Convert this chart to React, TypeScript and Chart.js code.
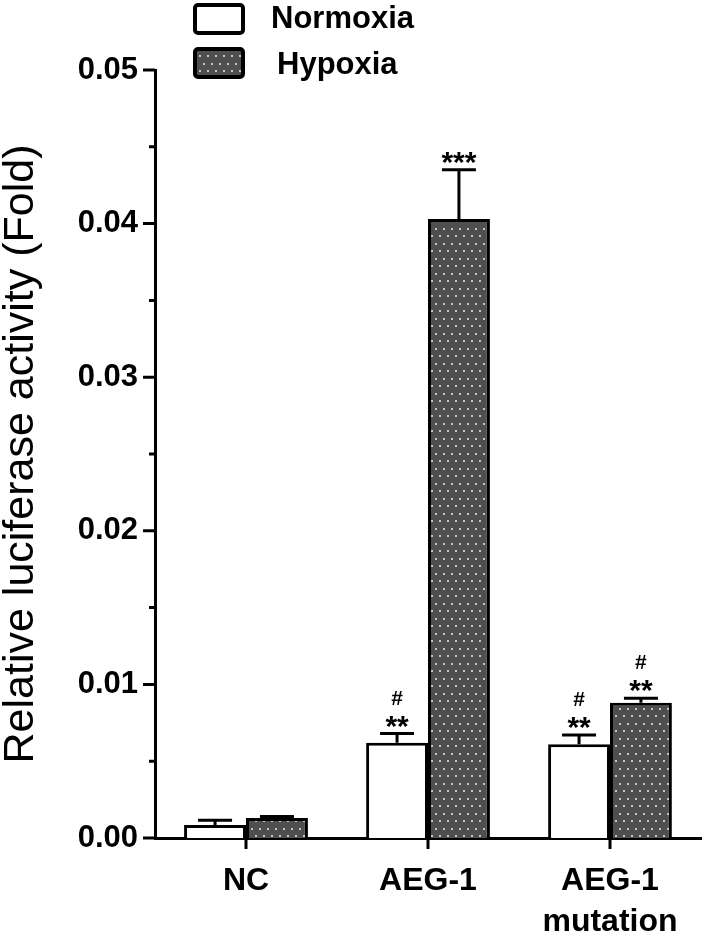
import React, { useEffect, useRef } from "react";
import { Chart, registerables } from "chart.js";

Chart.register(...registerables);

const categories: (string | string[])[] = ["NC", "AEG-1", ["AEG-1", "mutation"]];
const seriesNames = ["Normoxia", "Hypoxia"];
const normoxiaValues = [0.00085, 0.0062, 0.0061];
const normoxiaErrors = [0.0003, 0.0006, 0.0006];
const hypoxiaValues = [0.0013, 0.0403, 0.0088];
const hypoxiaErrors = [0.0001, 0.0032, 0.0003];
const normoxiaStars = ["", "**", "**"];
const normoxiaHash = ["", "#", "#"];
const hypoxiaStars = ["", "***", "**"];
const hypoxiaHash = ["", "", "#"];
const yMin = 0;
const yMax = 0.05;
const yMinorStep = 0.005;
const yMajorStep = 0.01;
const yTitle = "Relative luciferase activity (Fold)";

const FONT = "'Liberation Sans', Arial, Helvetica, sans-serif";

function makeDotPattern(): CanvasPattern | string {
  const c = document.createElement("canvas");
  c.width = 16;
  c.height = 15;
  const g = c.getContext("2d");
  if (!g) return "#555";
  g.fillStyle = "#4f4f4f";
  g.fillRect(0, 0, 16, 15);
  g.fillStyle = "#c4c4c4";
  const dots = [
    [3, 3],
    [11, 3],
    [7, 10],
    [15, 10],
  ];
  dots.forEach(([x, y]) => g.fillRect(x, y, 2, 2));
  g.fillRect(-1, 10, 2, 2);
  const p = g.createPattern(c, "repeat");
  return p || "#555";
}

export default function App() {
  const ref = useRef<HTMLCanvasElement | null>(null);

  useEffect(() => {
    const canvas = ref.current;
    if (!canvas) return;
    const pattern = makeDotPattern();
    const errors = [normoxiaErrors, hypoxiaErrors];
    const stars = [normoxiaStars, hypoxiaStars];
    const hashes = [normoxiaHash, hypoxiaHash];

    const overlay = {
      id: "overlay",
      afterDatasetsDraw(chart: any) {
        const ctx = chart.ctx as CanvasRenderingContext2D;
        const y = chart.scales.y;
        ctx.save();
        ctx.strokeStyle = "#000";
        ctx.fillStyle = "#000";
        ctx.lineWidth = 3;
        chart.data.datasets.forEach((ds: any, di: number) => {
          const meta = chart.getDatasetMeta(di);
          meta.data.forEach((bar: any, i: number) => {
            const v = ds.data[i];
            const e = errors[di][i];
            const x = bar.x;
            const yTop = y.getPixelForValue(v);
            const yCap = y.getPixelForValue(v + e);
            ctx.beginPath();
            ctx.moveTo(x, yTop);
            ctx.lineTo(x, yCap);
            ctx.moveTo(x - 17, yCap);
            ctx.lineTo(x + 17, yCap);
            ctx.stroke();
            ctx.textAlign = "center";
            ctx.textBaseline = "alphabetic";
            if (stars[di][i]) {
              ctx.font = `bold 30px ${FONT}`;
              ctx.fillText(stars[di][i], x, yCap - 15 + 17);
            }
            if (hashes[di][i]) {
              ctx.font = `bold 21px ${FONT}`;
              ctx.fillText(hashes[di][i], x, yCap - 36 + 7);
            }
          });
        });
        ctx.restore();
      },
      afterDraw(chart: any) {
        const ctx = chart.ctx as CanvasRenderingContext2D;
        const { left, bottom } = chart.chartArea;
        const y = chart.scales.y;
        const x = chart.scales.x;
        ctx.save();
        ctx.strokeStyle = "#000";
        ctx.lineWidth = 3;
        ctx.beginPath();
        const n = Math.round((yMax - yMin) / yMinorStep);
        for (let k = 0; k <= n; k++) {
          const v = yMin + k * yMinorStep;
          const py = y.getPixelForValue(v);
          const major = Math.abs(v / yMajorStep - Math.round(v / yMajorStep)) < 1e-6;
          const len = major ? 12 : 6;
          ctx.moveTo(left - len, py);
          ctx.lineTo(left, py);
        }
        categories.forEach((_, i) => {
          const px = x.getPixelForValue(i);
          ctx.moveTo(px, bottom);
          ctx.lineTo(px, bottom + 11);
        });
        ctx.stroke();

        // legend
        const items = [
          { label: seriesNames[0], fill: "#ffffff", box: [195, 5, 48, 28], tx: 271, ty: 28 },
          { label: seriesNames[1], fill: pattern, box: [195, 49, 48, 28], tx: 277, ty: 74 },
        ];
        items.forEach((it) => {
          const [bx, by, bw, bh] = it.box;
          ctx.beginPath();
          ctx.roundRect(bx, by, bw, bh, 3);
          ctx.fillStyle = it.fill as any;
          ctx.fill();
          ctx.lineWidth = 4;
          ctx.strokeStyle = "#000";
          ctx.stroke();
          ctx.fillStyle = "#000";
          ctx.font = `bold 31px ${FONT}`;
          ctx.textAlign = "left";
          ctx.textBaseline = "alphabetic";
          ctx.fillText(it.label, it.tx, it.ty);
        });
        ctx.restore();
      },
    };

    const chart = new Chart(canvas, {
      type: "bar",
      data: {
        labels: categories as any,
        datasets: [
          {
            label: seriesNames[0],
            data: normoxiaValues,
            backgroundColor: "#ffffff",
            borderColor: "#000000",
            borderWidth: 3,
            categoryPercentage: 0.68,
            barPercentage: 1.0,
          },
          {
            label: seriesNames[1],
            data: hypoxiaValues,
            backgroundColor: pattern as any,
            borderColor: "#000000",
            borderWidth: 3,
            categoryPercentage: 0.68,
            barPercentage: 1.0,
          },
        ],
      },
      options: {
        responsive: false,
        animation: false,
        maintainAspectRatio: false,
        layout: { padding: { top: 70, right: 8, left: 0, bottom: 0 } },
        plugins: {
          legend: { display: false },
          tooltip: { enabled: false },
          title: { display: false },
        },
        scales: {
          x: {
            type: "category",
            offset: true,
            grid: { display: false, drawTicks: false },
            border: { display: true, color: "#000", width: 3 },
            ticks: {
              color: "#000",
              padding: 22,
              maxRotation: 0,
              autoSkip: false,
              font: { family: FONT, size: 32, weight: "bold", lineHeight: 1.3 },
            },
            afterFit(scale: any) {
              scale.height = 98;
            },
          },
          y: {
            min: yMin,
            max: yMax,
            grid: { display: false, drawTicks: false },
            border: { display: true, color: "#000", width: 3 },
            ticks: {
              stepSize: yMinorStep,
              color: "#000",
              padding: 17,
              autoSkip: false,
              font: { family: FONT, size: 31, weight: "bold" },
              callback(value: any) {
                const v = Number(value);
                const r = v / yMajorStep;
                if (Math.abs(r - Math.round(r)) < 1e-6) return v.toFixed(2);
                return "";
              },
            },
            title: {
              display: true,
              text: yTitle,
              color: "#000",
              padding: { top: 0, bottom: 0 },
              font: { family: FONT, size: 43, weight: "normal", lineHeight: 1 },
            },
            afterFit(scale: any) {
              scale.width = 155;
            },
          },
        },
      },
      plugins: [overlay],
    } as any);

    return () => chart.destroy();
  }, []);

  return (
    <div style={{ position: "absolute", left: 0, top: 0, width: 709, height: 936, background: "#fff" }}>
      <canvas ref={ref} width={709} height={936} style={{ display: "block", width: 709, height: 936 }} />
    </div>
  );
}
